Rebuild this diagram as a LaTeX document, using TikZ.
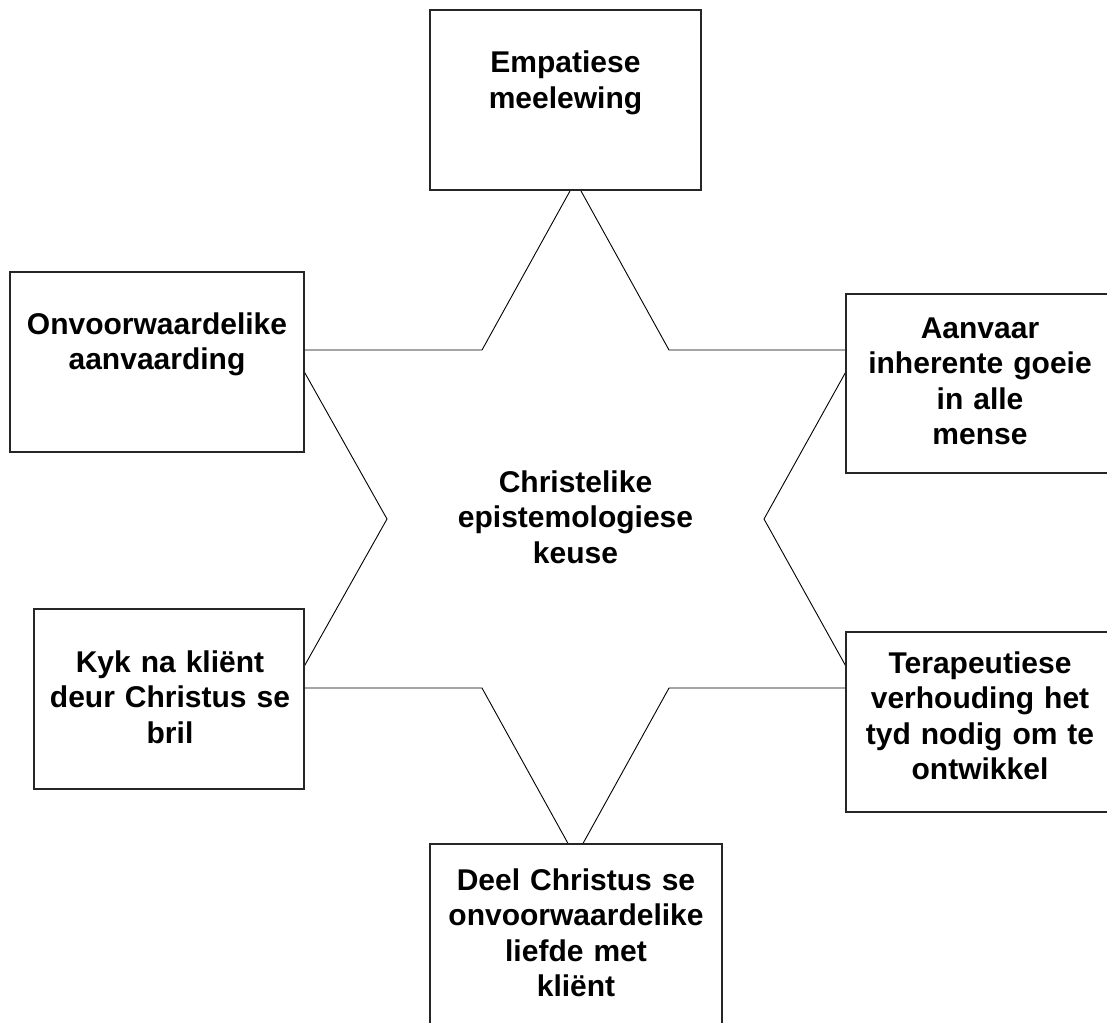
\documentclass[tikz,border=0pt]{standalone}
\usepackage{fontspec}
\setmainfont{Liberation Sans}
\begin{document}
\begin{tikzpicture}[x=1pt,y=-1pt,
  starline/.style={draw=black,line width=0.9pt,line join=miter},
  boxnode/.style={draw=black!85,line width=1.3pt,fill=white,rectangle,inner sep=0pt},
  lbl/.style={anchor=base,align=center,inner sep=0pt,text width=300pt,
    font=\fontsize{30}{35.5}\selectfont\bfseries}]
\useasboundingbox (0,0) rectangle (1107,1022);
\clip (0,0) rectangle (1107,1022);
\fill[white] (0,0) rectangle (1107,1022);
% star corners
\coordinate (s1) at (575.5,181);
\coordinate (s2) at (669,350);
\coordinate (s3) at (858,350);
\coordinate (s4) at (764,519);
\coordinate (s5) at (858,688);
\coordinate (s6) at (669,688);
\coordinate (s7) at (575.5,857);
\coordinate (s8) at (482,688);
\coordinate (s9) at (292,688);
\coordinate (s10) at (387,519);
\coordinate (s11) at (292,350);
\coordinate (s12) at (482,350);
\draw[starline] (s1) -- (s2) -- (s3) -- (s4) -- (s5) -- (s6) -- (s7) -- (s8) -- (s9) -- (s10) -- (s11) -- (s12) -- cycle;
% boxes
\node[boxnode,minimum width=271pt,minimum height=180pt] (btop) at (565.5,100) {};
\node[boxnode,minimum width=294pt,minimum height=180pt] (bul) at (157,362) {};
\node[boxnode,minimum width=270pt,minimum height=180pt] (bll) at (169,699) {};
\node[boxnode,minimum width=284pt,minimum height=179pt] (bur) at (988,383.5) {};
\node[boxnode,minimum width=284pt,minimum height=180pt] (blr) at (988,722) {};
\node[boxnode,minimum width=292pt,minimum height=196pt] (bbot) at (576,942) {};
% labels
\node[lbl] (ttop) at (565.5,73) {Empatiese\\meelewing};
\node[lbl] (tul) at (157,334) {Onvoorwaardelike\\aanvaarding};
\node[lbl] (tll) at (170,672) {Kyk na kliënt\\deur Christus se\\bril};
\node[lbl] (tur) at (980,338) {Aanvaar\\inherente goeie\\in alle\\mense};
\node[lbl] (tlr) at (980,673) {Terapeutiese\\verhouding het\\tyd nodig om te\\ontwikkel};
\node[lbl] (tbot) at (576,890) {Deel Christus se\\onvoorwaardelike\\liefde met\\kliënt};
\node[lbl] (tmid) at (575.5,492) {Christelike\\epistemologiese\\keuse};
\end{tikzpicture}
\end{document}
